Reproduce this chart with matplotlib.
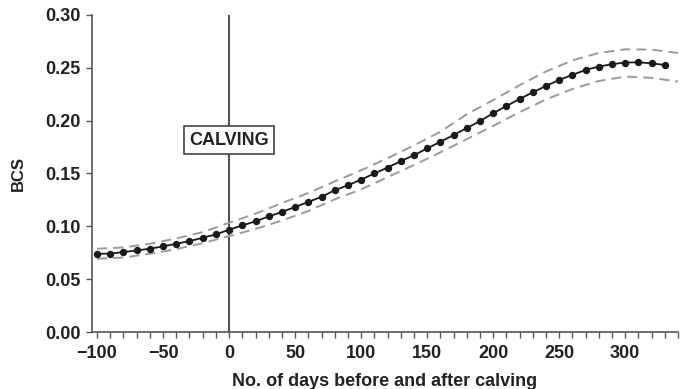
import numpy as np
import matplotlib
matplotlib.use('Agg')
import matplotlib.pyplot as plt
from matplotlib.ticker import MultipleLocator

plt.rcParams['font.family'] = ['Liberation Sans', 'DejaVu Sans']
plt.rcParams['font.weight'] = 'bold'

# BCS curve, one point every 10 days
days = np.arange(-100, 331, 10)
bcs = [0.0740, 0.0742, 0.0756, 0.0772, 0.0788, 0.0810, 0.0835, 0.0860, 0.0892, 0.0924,
       0.0968, 0.1009, 0.1047, 0.1094, 0.1136, 0.1183, 0.1230, 0.1280, 0.1341, 0.1389,
       0.1442, 0.1500, 0.1556, 0.1616, 0.1673, 0.1737, 0.1800, 0.1863, 0.1930, 0.1996,
       0.2070, 0.2138, 0.2205, 0.2268, 0.2328, 0.2385, 0.2433, 0.2480, 0.2512, 0.2534,
       0.2550, 0.2552, 0.2543, 0.2527]

# confidence band (dashed)
band_days = np.arange(-100, 341, 20)
upper = [0.0788, 0.0800, 0.0835, 0.0885, 0.0945, 0.1034, 0.1120, 0.1220, 0.1315, 0.1425,
         0.1530, 0.1645, 0.1765, 0.1895, 0.2060, 0.2195, 0.2335, 0.2465, 0.2570, 0.2640,
         0.2675, 0.2672, 0.2640]
lower = [0.0693, 0.0705, 0.0740, 0.0785, 0.0840, 0.0908, 0.0975, 0.1055, 0.1145, 0.1255,
         0.1350, 0.1465, 0.1580, 0.1700, 0.1825, 0.1950, 0.2080, 0.2200, 0.2300, 0.2375,
         0.2417, 0.2405, 0.2370]

fig = plt.figure(figsize=(6.8, 3.89), dpi=100)
ax = fig.add_axes([0.135, 0.1465, 0.862, 0.815])

band_color = '#9a9a9a'
ax.plot(band_days, upper, color=band_color, lw=1.4, dashes=(5.2, 3.1))
ax.plot(band_days, lower, color=band_color, lw=1.4, dashes=(5.2, 3.1))
ax.plot(days, bcs, color='#1a1a1a', lw=1.3, marker='o', ms=4.3)

# calving marker
ax.axvline(0, color='#1a1a1a', lw=1.1, zorder=1)
ax.text(0, 0.1815, 'CALVING', ha='center', va='center', fontsize=13, fontweight='bold',
        color='#222222',
        bbox=dict(boxstyle='square,pad=0.3', facecolor='white', edgecolor='#444444', lw=1.2))

ax.set_xlim(-104, 340)
ax.set_ylim(0, 0.30)
ax.xaxis.set_major_locator(MultipleLocator(50))
ax.xaxis.set_minor_locator(MultipleLocator(10))
ax.yaxis.set_major_locator(MultipleLocator(0.05))
ax.yaxis.set_major_formatter(plt.FormatStrFormatter('%.2f'))
ax.set_xticks(np.arange(-100, 301, 50))
ax.set_xticklabels(['\u2212100', '\u221250', '0', '50', '100', '150', '200', '250', '300'])

for s in ['top', 'right']:
    ax.spines[s].set_visible(False)
for s in ['left', 'bottom']:
    ax.spines[s].set_color('#555555')
    ax.spines[s].set_linewidth(1.2)

ax.tick_params(axis='both', which='both', direction='out', color='#555555', width=1.0,
               length=4, labelsize=13, labelcolor='#222222')
ax.tick_params(axis='x', pad=5)
ax.tick_params(axis='y', pad=4)

ax.set_xlabel('No. of days before and after calving', fontsize=13, fontweight='bold',
              color='#222222', labelpad=8)
ax.set_ylabel('BCS', fontsize=12, fontweight='bold', color='#222222')
ax.yaxis.set_label_coords(-0.112, 0.5)

fig.savefig('out.png', dpi=100)
